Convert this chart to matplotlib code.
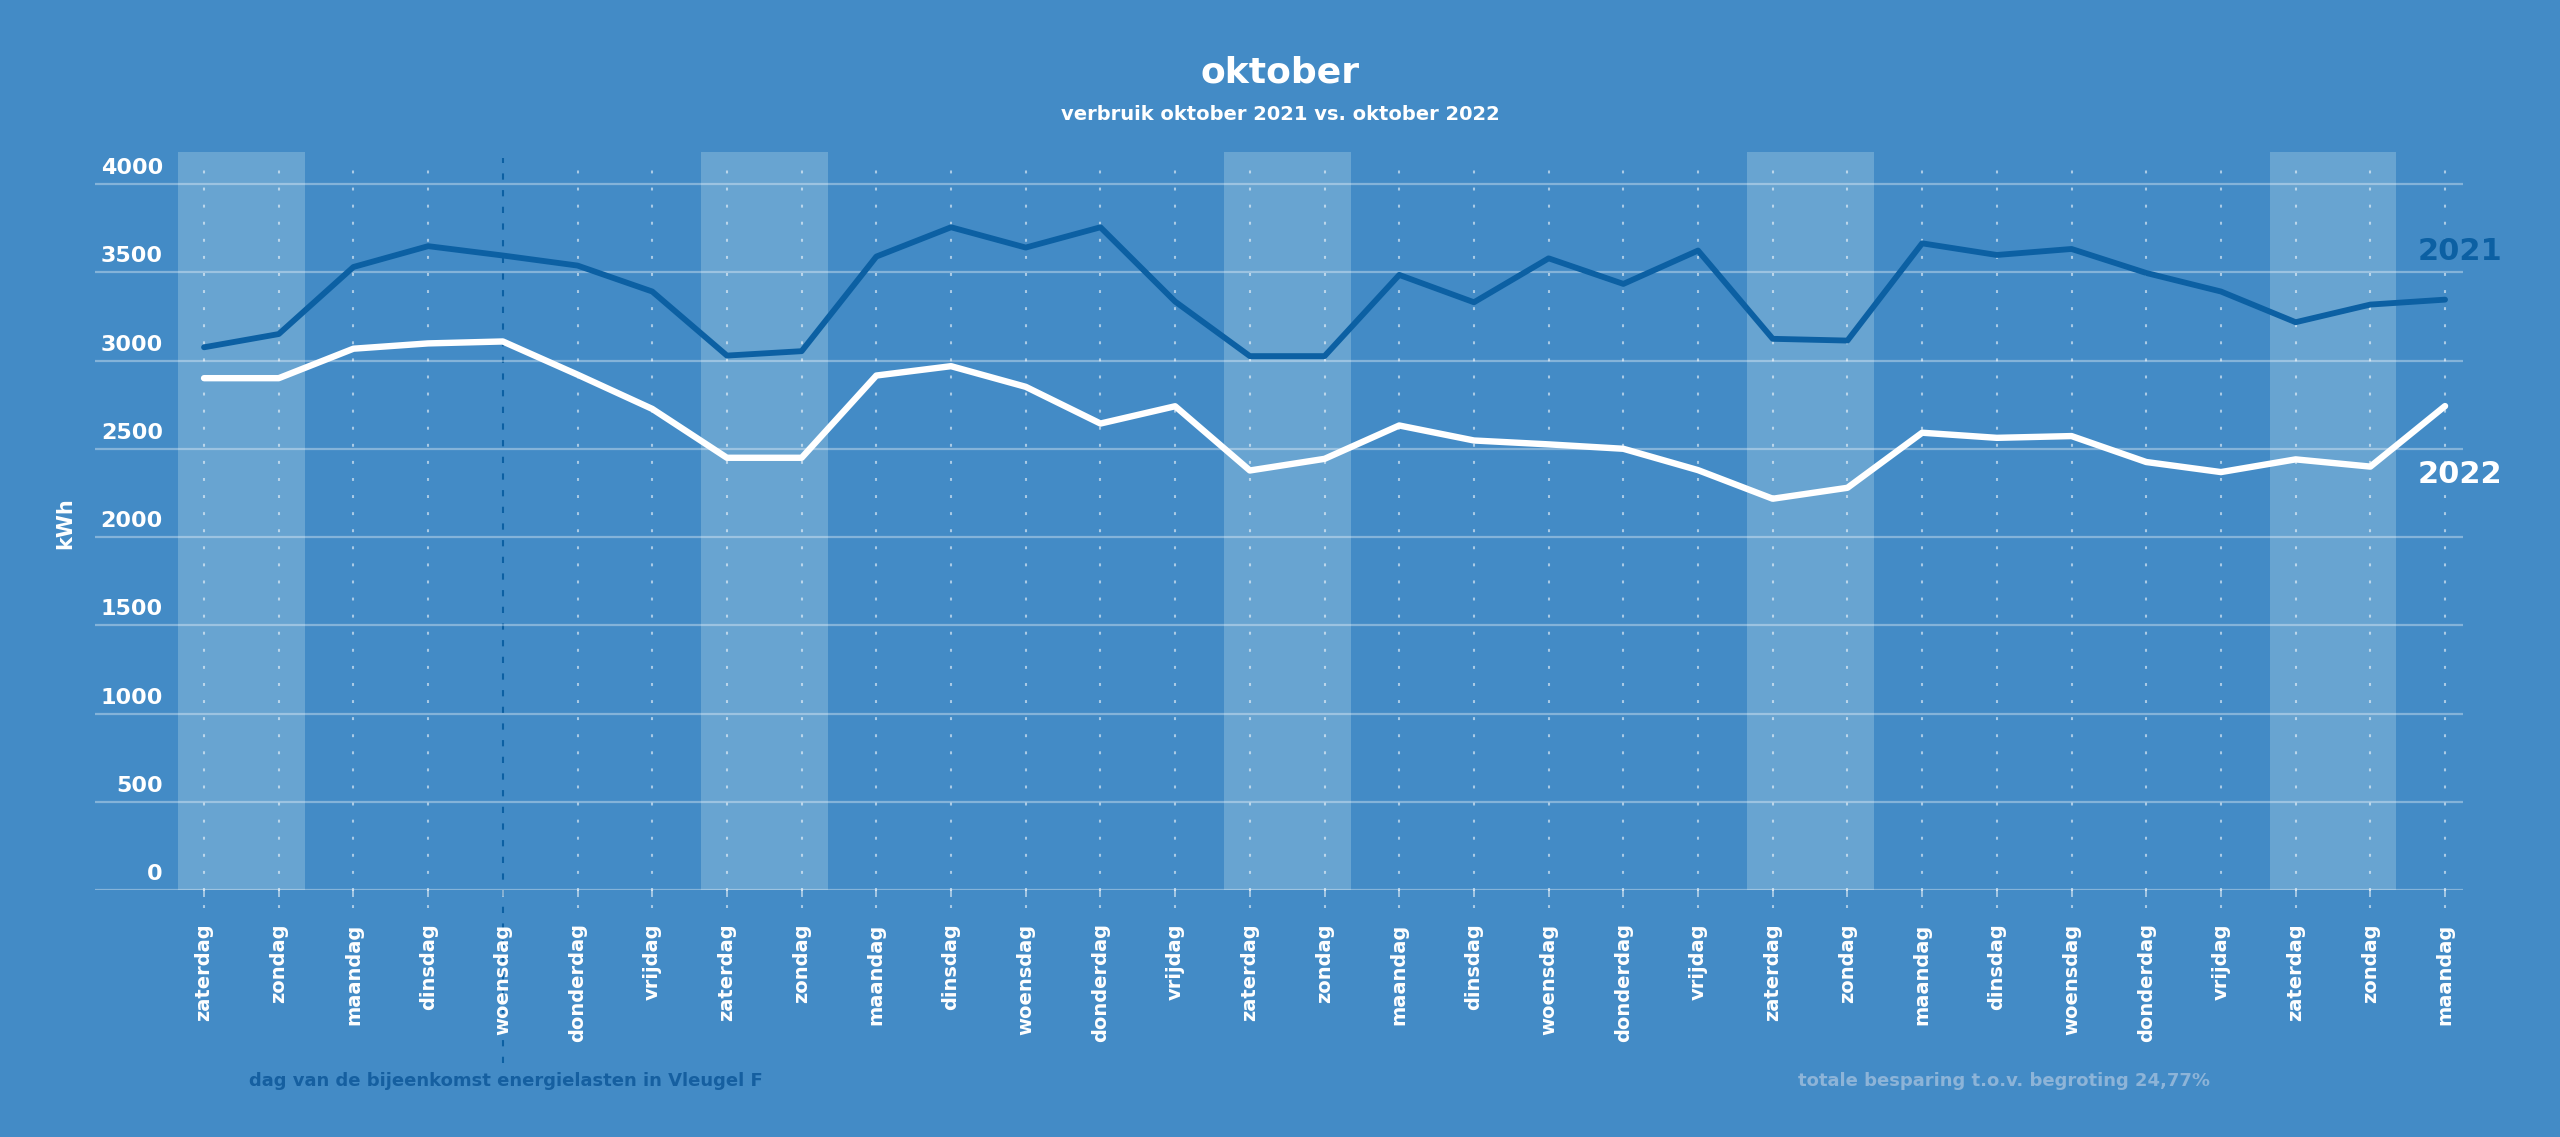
import numpy as np
import matplotlib
matplotlib.use('Agg')
import matplotlib.pyplot as plt

# verbruik per dag, oktober 2021 vs oktober 2022 (kWh)
days = ['zaterdag', 'zondag', 'maandag', 'dinsdag', 'woensdag', 'donderdag', 'vrijdag',
        'zaterdag', 'zondag', 'maandag', 'dinsdag', 'woensdag', 'donderdag', 'vrijdag',
        'zaterdag', 'zondag', 'maandag', 'dinsdag', 'woensdag', 'donderdag', 'vrijdag',
        'zaterdag', 'zondag', 'maandag', 'dinsdag', 'woensdag', 'donderdag', 'vrijdag',
        'zaterdag', 'zondag', 'maandag']
kwh_2021 = [3075, 3150, 3530, 3648, 3595, 3538, 3391, 3028, 3053, 3589, 3755, 3640, 3755, 3334,
            3025, 3025, 3485, 3330, 3579, 3434, 3623, 3123, 3113, 3664, 3598, 3632, 3496, 3391,
            3217, 3317, 3345]
kwh_2022 = [2900, 2900, 3067, 3097, 3108, 2920, 2726, 2449, 2449, 2915, 2968, 2851, 2643, 2741,
            2377, 2443, 2632, 2547, 2525, 2500, 2379, 2217, 2279, 2591, 2562, 2572, 2425, 2368,
            2440, 2399, 2742]
yticks = [0, 500, 1000, 1500, 2000, 2500, 3000, 3500, 4000]
meeting_day = 4  # woensdag: bijeenkomst energielasten

bg = '#438BC6'
band = '#68A4D1'
dark = '#0C60A3'

x = np.arange(len(days))

fig = plt.figure(figsize=(25.6, 11.37), dpi=100, facecolor=bg)
ax = fig.add_axes([0.0371, 0.2172, 0.925, 0.652])
ax.set_facecolor(bg)
ax.set_xlim(-1.46, 30.24)
ax.set_ylim(0, 4200)

# weekend banden
for i, d in enumerate(days):
    if d == 'zaterdag':
        ax.axvspan(i - 0.35, i + 1.35, ymin=0, ymax=4180 / 4200, color=band, zorder=0.1, lw=0)

# horizontale rasterlijnen
ax.set_yticks(yticks)
ax.set_yticklabels([])
ax.tick_params(axis='y', length=0)
ax.yaxis.grid(True, color='white', alpha=0.35, lw=1.6)
ax.set_axisbelow(True)
for v in yticks:
    ax.text(0.0287, v + 90, str(v), transform=ax.get_yaxis_transform(), ha='right', va='center',
            color='white', fontsize=16, fontweight='bold')

# verticale stippellijnen (onder de aslabels)
others = [i for i in x if i != meeting_day]
ax.vlines(others, -100, 4150, colors='white', alpha=0.55, lw=1.5,
          linestyles=(0, (1.4, 6.8)), clip_on=False, zorder=0.3)
ax.vlines([meeting_day], -980, 4150, colors=dark, lw=1.5,
          linestyles=(0, (3, 5)), clip_on=False, zorder=0.3)

# lijnen
ax.plot(x, kwh_2021, color=dark, lw=4.2, zorder=3, solid_capstyle='round')
ax.plot(x, kwh_2022, color='white', lw=4.6, zorder=4, solid_capstyle='round')

ax.text(29.63, 3620, '2021', color=dark, fontsize=22, fontweight='bold', ha='left', va='center')
ax.text(29.63, 2357, '2022', color='white', fontsize=22, fontweight='bold', ha='left', va='center')

for s in ax.spines.values():
    s.set_visible(False)
ax.set_xticks(x)
ax.set_xticklabels(days, rotation=90, fontsize=14, fontweight='bold', color='white')
ax.tick_params(axis='x', length=5, width=1.2, color=(1, 1, 1, 0.6), pad=19)

fig.text(0.5, 0.936, 'oktober', ha='center', va='center', color='white', fontsize=26, fontweight='bold')
fig.text(0.5, 0.899, 'verbruik oktober 2021 vs. oktober 2022', ha='center', va='center',
         color='white', fontsize=14, fontweight='bold')
fig.text(0.0254, 0.54, 'kWh', rotation=90, ha='center', va='center', color='white',
         fontsize=15, fontweight='bold')
fig.text(0.1977, 0.049, 'dag van de bijeenkomst energielasten in Vleugel F', ha='center', va='center',
         color='#155FA0', fontsize=13, fontweight='bold')
fig.text(0.783, 0.049, 'totale besparing t.o.v. begroting 24,77%', ha='center', va='center',
         color='#8DB4D8', fontsize=13, fontweight='bold')

plt.savefig('out.png', dpi=100, facecolor=bg)
